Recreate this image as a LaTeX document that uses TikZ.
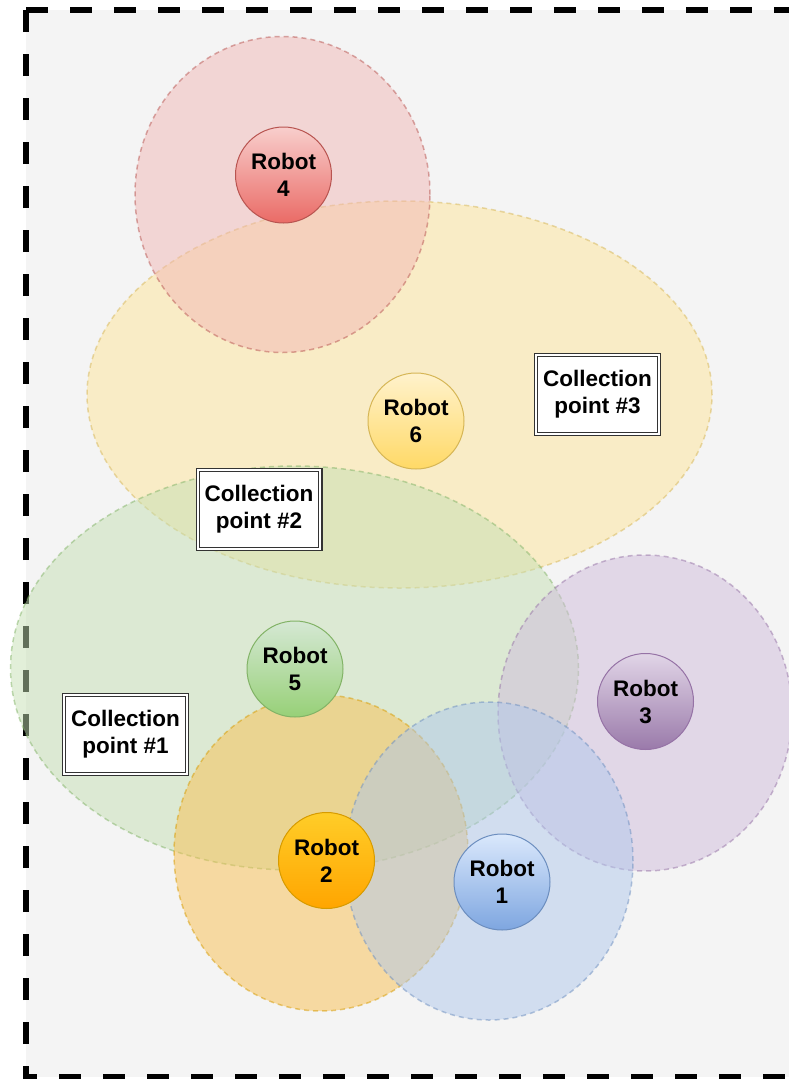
\documentclass[tikz,border=0pt]{standalone}
\usepackage{fontspec}
\setmainfont{Liberation Sans}
\newcommand\labelfont{\fontsize{22.5}{27}\selectfont\bfseries}

% zone fills and strokes
\definecolor{redfill}{HTML}{F2B8B6}
\definecolor{redline}{HTML}{B85450}
\definecolor{yelfill}{HTML}{FFE599}
\definecolor{yelline}{HTML}{D6B656}
\definecolor{grnfill}{HTML}{C5E0B4}
\definecolor{grnline}{HTML}{82B366}
\definecolor{purfill}{HTML}{D0BCDC}
\definecolor{purline}{HTML}{9673A6}
\definecolor{orgfill}{HTML}{F8C050}
\definecolor{orgline}{HTML}{D79B00}
\definecolor{blufill}{HTML}{B0C8EC}
\definecolor{bluline}{HTML}{6C8EBF}
\definecolor{canvas}{HTML}{F4F4F4}
% robot gradients (top / bottom)
\definecolor{redtop}{HTML}{F8CECC}
\definecolor{redbot}{HTML}{EA6B66}
\definecolor{yeltop}{HTML}{FFF2CC}
\definecolor{yelbot}{HTML}{FFD966}
\definecolor{grntop}{HTML}{D5E8D4}
\definecolor{grnbot}{HTML}{97D077}
\definecolor{purtop}{HTML}{E1D5E7}
\definecolor{purbot}{HTML}{9A7AAA}
\definecolor{orgtop}{HTML}{FFCD28}
\definecolor{orgbot}{HTML}{FFA500}
\definecolor{blutop}{HTML}{DAE8FC}
\definecolor{blubot}{HTML}{7EA6E0}

\begin{document}
\begin{tikzpicture}[x=1pt,y=-1pt,
  zone/.style={draw opacity=0.5, fill opacity=0.5, line width=1.5pt,
    dash pattern=on 5pt off 4pt},
  robot/.style={circle, minimum size=96pt, inner sep=0pt, line width=1pt,
    align=center, font=\labelfont},
  cpoint/.style={rectangle, draw=black!80, double=white, double distance=2pt,
    line width=1.2pt, fill=white, minimum width=122.6pt,
    minimum height=78.6pt, inner sep=0pt, align=center, font=\labelfont}]

\useasboundingbox (0,0) rectangle (789,1079);

% working area and its dashed frame
\fill[canvas] (26,10) rectangle (796,1077);
\draw[line width=6.5pt, dash pattern=on 22pt off 22pt]
  (26,10) -- (796,10) -- (796,1077) -- (26,1077) -- cycle;

% coverage zones
\draw[zone, draw=yelline, fill=yelfill] (399.5,394.5) ellipse [x radius=312.5pt, y radius=193.5pt];
\draw[zone, draw=redline, fill=redfill] (282.5,194.5) ellipse [x radius=147.5pt, y radius=158pt];
\draw[zone, draw=grnline, fill=grnfill] (294.5,668) ellipse [x radius=284pt, y radius=202pt];
\draw[zone, draw=purline, fill=purfill] (645,713) ellipse [x radius=147pt, y radius=158pt];
\draw[zone, draw=orgline, fill=orgfill] (321,853) ellipse [x radius=147pt, y radius=158pt];
\draw[zone, draw=bluline, fill=blufill] (489,861) ellipse [x radius=144pt, y radius=159pt];

% collection points
\node[cpoint] (cp3) at (597.5,394.5) {Collection\\point \#3};
\node[cpoint] (cp2) at (259,509.5) {Collection\\point \#2};
\node[cpoint] (cp1) at (125.5,734.5) {Collection\\point \#1};

% robots
\node[robot, draw=redline, top color=redtop, bottom color=redbot] (r4) at (283.5,175) {Robot\\4};
\node[robot, draw=yelline, top color=yeltop, bottom color=yelbot] (r6) at (416,421) {Robot\\6};
\node[robot, draw=grnline, top color=grntop, bottom color=grnbot] (r5) at (295,669) {Robot\\5};
\node[robot, draw=purline, top color=purtop, bottom color=purbot] (r3) at (645.5,701.5) {Robot\\3};
\node[robot, draw=orgline, top color=orgtop, bottom color=orgbot] (r2) at (326.5,860.5) {Robot\\2};
\node[robot, draw=bluline, top color=blutop, bottom color=blubot] (r1) at (502,882) {Robot\\1};
\end{tikzpicture}
\end{document}
